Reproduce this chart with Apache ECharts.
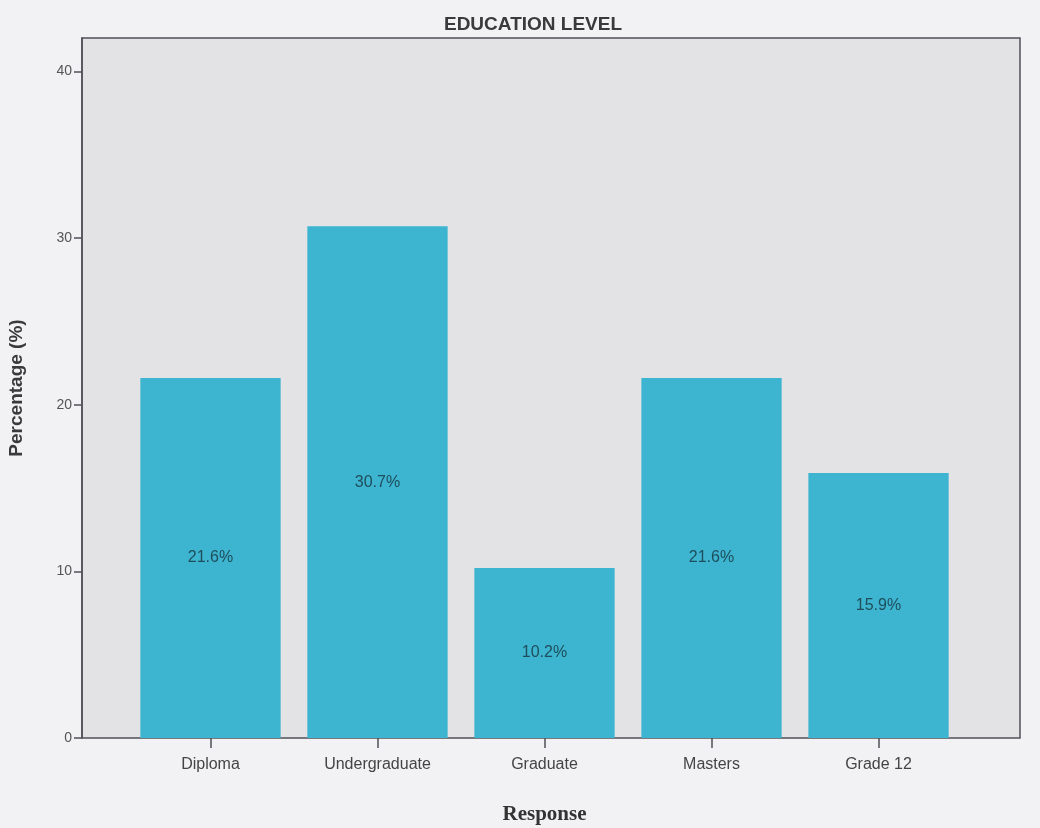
<!DOCTYPE html>
<html>
<head>
<meta charset="utf-8">
<script src="https://cdn.jsdelivr.net/npm/echarts@6/dist/echarts.min.js"></script>
<style>
  html, body { margin: 0; padding: 0; background: #f2f2f4; }
  #chart { width: 1040px; height: 828px; }
</style>
</head>
<body>
<div id="chart"></div>
<script>
// Education level distribution (percent of respondents)
const categories = ['Diploma', 'Undergraduate', 'Graduate', 'Masters', 'Grade 12'];
const percentages = [21.6, 30.7, 10.2, 21.6, 15.9];
const yTicks = [0, 10, 20, 30, 40];

const Y_MAX = 42;
const axisColor = '#505058';
const tickLabel = v => (yTicks.indexOf(v) >= 0 ? String(v) : '');

const chart = echarts.init(document.getElementById('chart'));
chart.setOption({
  backgroundColor: '#f2f2f4',
  animation: false,
  title: {
    text: 'EDUCATION LEVEL',
    left: 528,
    textAlign: 'center',
    top: 10,
    textStyle: { fontFamily: 'Liberation Sans', fontWeight: 'bold', fontSize: 19, color: '#3a3a3a' }
  },
  grid: [
    // outer plot frame with the percentage scale
    {
      left: 82, right: 20, top: 38, bottom: 90,
      outerBoundsMode: 'none',
      containLabel: false,
      show: true,
      backgroundColor: '#e3e3e6',
      borderColor: axisColor,
      borderWidth: 1.5
    },
    // inner band holding the bars, inset from the frame
    {
      left: 127, right: 78, top: 38, bottom: 90,
      outerBoundsMode: 'none',
      containLabel: false,
      show: false
    }
  ],
  xAxis: [
    { gridIndex: 0, type: 'value', show: false, min: 0, max: 1 },
    {
      gridIndex: 1,
      type: 'category',
      data: categories,
      name: 'Response',
      nameLocation: 'middle',
      nameGap: 66,
      nameTextStyle: { fontFamily: 'Liberation Serif', fontWeight: 'bold', fontSize: 21, color: '#333' },
      axisLine: { show: false },
      axisTick: { show: true, alignWithLabel: true, length: 10, lineStyle: { color: axisColor, width: 1.5 } },
      axisLabel: { fontFamily: 'Liberation Sans', fontSize: 16, color: '#444', margin: 19 }
    }
  ],
  yAxis: [
    {
      gridIndex: 0,
      type: 'value',
      min: yTicks[0],
      max: Y_MAX,
      interval: 10,
      name: 'Percentage (%)',
      nameLocation: 'middle',
      nameGap: 56,
      nameTextStyle: { fontFamily: 'Liberation Sans', fontWeight: 'bold', fontSize: 19, color: '#3a3a3a' },
      splitLine: { show: false },
      axisLine: { show: true, lineStyle: { color: axisColor, width: 1.5 } },
      axisTick: { show: true, length: 8, lineStyle: { color: axisColor, width: 1.5 } },
      axisLabel: {
        fontFamily: 'Liberation Sans', fontSize: 14, color: '#555', margin: 10,
        showMaxLabel: false,
        formatter: tickLabel
      }
    },
    { gridIndex: 1, type: 'value', min: 0, max: Y_MAX, show: false }
  ],
  series: [{
    type: 'bar',
    xAxisIndex: 1,
    yAxisIndex: 1,
    data: percentages,
    barWidth: '84%',
    itemStyle: { color: '#3db4d0' },
    label: {
      show: true,
      position: 'inside',
      formatter: p => p.value.toFixed(1) + '%',
      fontFamily: 'Liberation Sans',
      fontSize: 16,
      color: '#1f4e5c'
    }
  }]
});
</script>
</body>
</html>
